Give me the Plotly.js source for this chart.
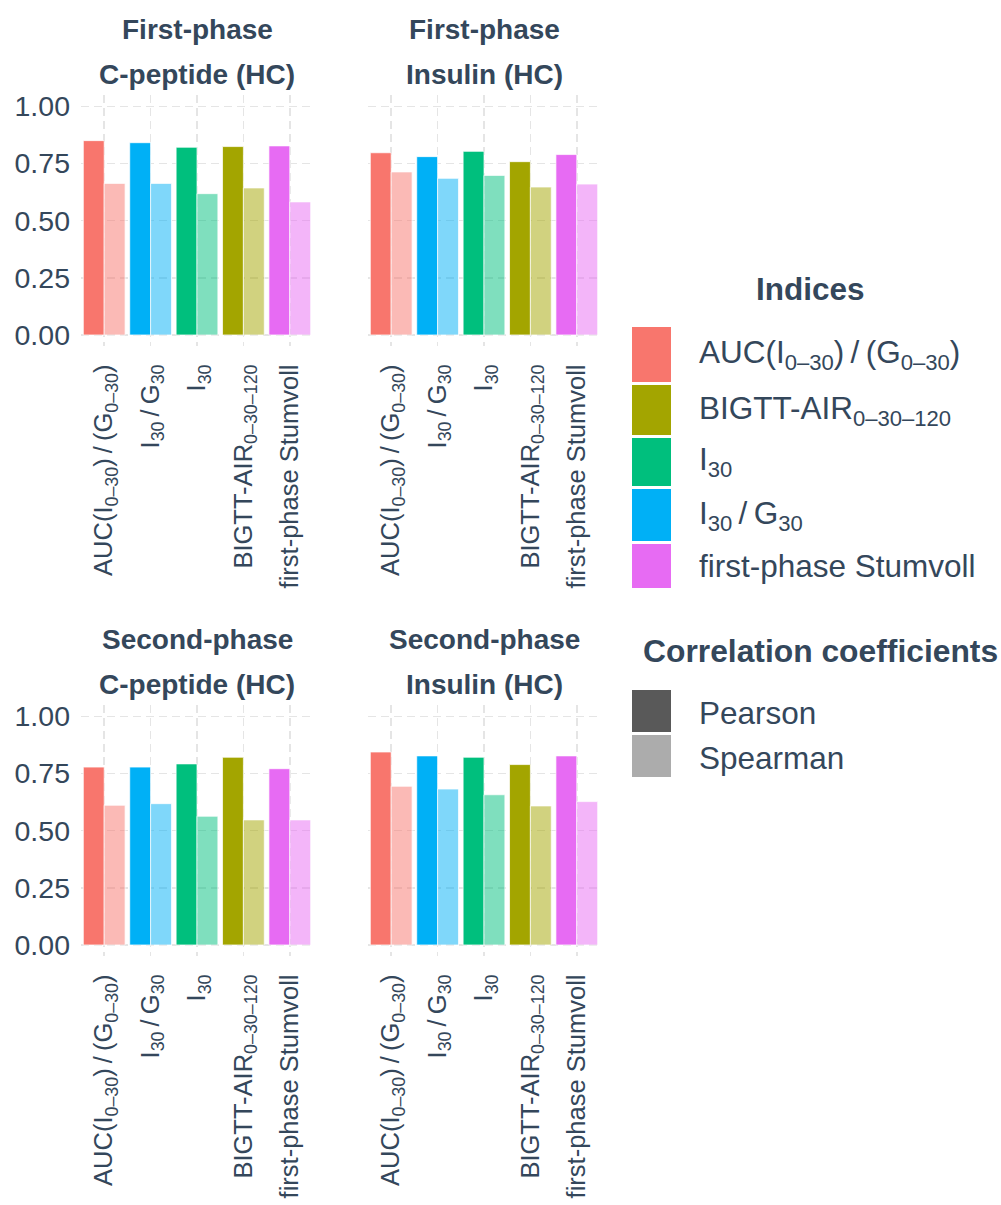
<!DOCTYPE html>
<html>
<head>
<meta charset="utf-8">
<script src="https://cdn.plot.ly/plotly-3.0.1.min.js"></script>
<style>
  html, body { margin: 0; padding: 0; background: #ffffff; }
  #chart { width: 1001px; height: 1205px; }
</style>
</head>
<body>
<div id="chart"></div>
<script>
// Secretion indices shown on the x axis of every panel
const indexKeys = ['AUC', 'I30/G30', 'I30', 'BIGTT', 'Stumvoll'];
const tickLabels = [
  'AUC(I<sub>0–30</sub>)\u2009/\u2009(G<sub>0–30</sub>)',
  'I<sub>30</sub>\u2009/\u2009G<sub>30</sub>',
  'I<sub>30</sub>',
  'BIGTT-AIR<sub>0–30–120</sub>',
  'first-phase Stumvoll'
];
const indexColors = ['#F8766D', '#00B0F6', '#00BF7D', '#A3A500', '#E76BF3'];

// Legend order (alphabetical, as in the colour scale)
const legendKeys = ['AUC', 'BIGTT', 'I30', 'I30/G30', 'Stumvoll'];
const legendLabels = [
  'AUC(I<sub>0–30</sub>)\u2009/\u2009(G<sub>0–30</sub>)',
  'BIGTT-AIR<sub>0–30–120</sub>',
  'I<sub>30</sub>',
  'I<sub>30</sub>\u2009/\u2009G<sub>30</sub>',
  'first-phase Stumvoll'
];
const coefLabels = ['Pearson', 'Spearman'];
const coefColors = ['#595959', '#ACACAC'];

// Panel titles
const panelTitles = [
  ['First-phase', 'C-peptide (HC)'],
  ['First-phase', 'Insulin (HC)'],
  ['Second-phase', 'C-peptide (HC)'],
  ['Second-phase', 'Insulin (HC)']
];

// Correlation coefficients per panel, in indexKeys order
const cpepFirstPearson   = [0.850, 0.841, 0.821, 0.824, 0.827];
const cpepFirstSpearman  = [0.663, 0.663, 0.618, 0.643, 0.582];
const insFirstPearson    = [0.797, 0.780, 0.803, 0.758, 0.789];
const insFirstSpearman   = [0.713, 0.685, 0.698, 0.647, 0.660];
const cpepSecondPearson  = [0.778, 0.778, 0.792, 0.821, 0.771];
const cpepSecondSpearman = [0.611, 0.618, 0.563, 0.547, 0.547];
const insSecondPearson   = [0.844, 0.827, 0.821, 0.789, 0.827];
const insSecondSpearman  = [0.694, 0.682, 0.657, 0.608, 0.627];

const yTicks = [0, 0.25, 0.5, 0.75, 1.0];

const panels = [
  [cpepFirstPearson, cpepFirstSpearman],
  [insFirstPearson, insFirstSpearman],
  [cpepSecondPearson, cpepSecondSpearman],
  [insSecondPearson, insSecondSpearman]
];

const W = 1001, H = 1205;
const px = x => x / W;
const py = y => 1 - y / H;

const FONT = 'Liberation Sans, Arial, sans-serif';
const TXT = '#34475B';

function fade(hex, a) {
  const r = parseInt(hex.slice(1, 3), 16), g = parseInt(hex.slice(3, 5), 16), b = parseInt(hex.slice(5, 7), 16);
  return 'rgba(' + r + ',' + g + ',' + b + ',' + a + ')';
}

const traces = [];
panels.forEach((pair, i) => {
  const sfx = i === 0 ? '' : String(i + 1);
  pair.forEach((vals, k) => {
    traces.push({
      type: 'bar',
      x: indexKeys,
      y: vals,
      name: coefLabels[k],
      xaxis: 'x' + sfx,
      yaxis: 'y' + sfx,
      marker: {
        color: indexColors.map(c => k === 0 ? c : fade(c, 0.5)),
        line: { color: 'rgba(255,255,255,0.9)', width: 0.8 }
      },
      showlegend: false,
      hoverinfo: 'x+y'
    });
  });
});

// Panel placement (pixels)
const colX = [[81, 313], [368, 600]];
const rowY = [[94.9, 346.4], [704.9, 956.4]];

const layout = {
  width: W, height: H,
  margin: { l: 0, r: 0, t: 0, b: 0 },
  paper_bgcolor: '#ffffff',
  plot_bgcolor: '#ffffff',
  barmode: 'group',
  bargap: 0.1,
  bargroupgap: 0,
  showlegend: false,
  font: { family: FONT, color: TXT },
  annotations: [],
  shapes: []
};

for (let i = 0; i < 4; i++) {
  const sfx = i === 0 ? '' : String(i + 1);
  const c = i % 2, r = Math.floor(i / 2);
  layout['xaxis' + sfx] = {
    domain: [px(colX[c][0]), px(colX[c][1])],
    anchor: 'y' + sfx,
    type: 'category',
    categoryorder: 'array',
    categoryarray: indexKeys,
    tickvals: indexKeys,
    ticktext: tickLabels,
    tickangle: -90,
    tickfont: { family: FONT, size: 25.5, color: TXT },
    ticks: '',
    ticklabelstandoff: 12,
    showgrid: true,
    gridcolor: '#E5E5E5',
    gridwidth: 1.6,
    griddash: '8px,5px',
    showline: false,
    zeroline: false,
    automargin: false,
    fixedrange: true
  };
  layout['yaxis' + sfx] = {
    domain: [py(rowY[r][1]), py(rowY[r][0])],
    anchor: 'x' + sfx,
    range: [-0.05, 1.05],
    tickvals: yTicks,
    tickformat: '.2f',
    showticklabels: c === 0,
    tickfont: { family: FONT, size: 28.5, color: TXT },
    ticks: '',
    ticklabelstandoff: 10,
    showgrid: true,
    gridcolor: '#E5E5E5',
    gridwidth: 1.6,
    griddash: '8px,5px',
    showline: false,
    zeroline: false,
    automargin: false,
    fixedrange: true
  };

  // two-line bold panel title centred over the panel
  const cx = (colX[c][0] + colX[c][1]) / 2;
  const top = rowY[r][0] + 11.4; // pixel row of value 1.00
  [top - 77, top - 32].forEach((y, li) => {
    layout.annotations.push({
      xref: 'paper', yref: 'paper',
      x: px(cx), y: py(y),
      xanchor: 'center', yanchor: 'middle',
      text: '<b>' + panelTitles[i][li] + '</b>',
      showarrow: false,
      font: { family: FONT, size: 28, color: TXT }
    });
  });
}

// Legend: Indices
layout.annotations.push({
  xref: 'paper', yref: 'paper', x: px(810), y: py(289),
  xanchor: 'center', yanchor: 'middle',
  text: '<b>Indices</b>', showarrow: false,
  font: { family: FONT, size: 31.5, color: TXT }
});
const keyRows = [[327, 382], [385, 435], [438, 486], [489, 541], [544, 588]];
legendKeys.forEach((key, j) => {
  const color = indexColors[indexKeys.indexOf(key)];
  const [y0, y1] = keyRows[j];
  layout.shapes.push({
    type: 'rect', xref: 'paper', yref: 'paper',
    x0: px(632), x1: px(671), y0: py(y1), y1: py(y0),
    fillcolor: color, line: { width: 0 }
  });
  layout.annotations.push({
    xref: 'paper', yref: 'paper', x: px(697), y: py((y0 + y1) / 2),
    xanchor: 'left', yanchor: 'middle',
    text: legendLabels[j], showarrow: false,
    font: { family: FONT, size: 31.5, color: TXT }
  });
});

// Legend: Correlation coefficients
layout.annotations.push({
  xref: 'paper', yref: 'paper', x: px(641), y: py(651),
  xanchor: 'left', yanchor: 'middle',
  text: '<b>Correlation coefficients</b>', showarrow: false,
  font: { family: FONT, size: 31.8, color: TXT }
});
const coefRows = [[690, 732], [735, 777]];
coefLabels.forEach((lab, j) => {
  const [y0, y1] = coefRows[j];
  layout.shapes.push({
    type: 'rect', xref: 'paper', yref: 'paper',
    x0: px(632), x1: px(671), y0: py(y1), y1: py(y0),
    fillcolor: coefColors[j], line: { width: 0 }
  });
  layout.annotations.push({
    xref: 'paper', yref: 'paper', x: px(697), y: py((y0 + y1) / 2 + 2),
    xanchor: 'left', yanchor: 'middle',
    text: lab, showarrow: false,
    font: { family: FONT, size: 31.5, color: TXT }
  });
});

Plotly.newPlot('chart', traces, layout, { displayModeBar: false, staticPlot: true });
</script>
</body>
</html>
